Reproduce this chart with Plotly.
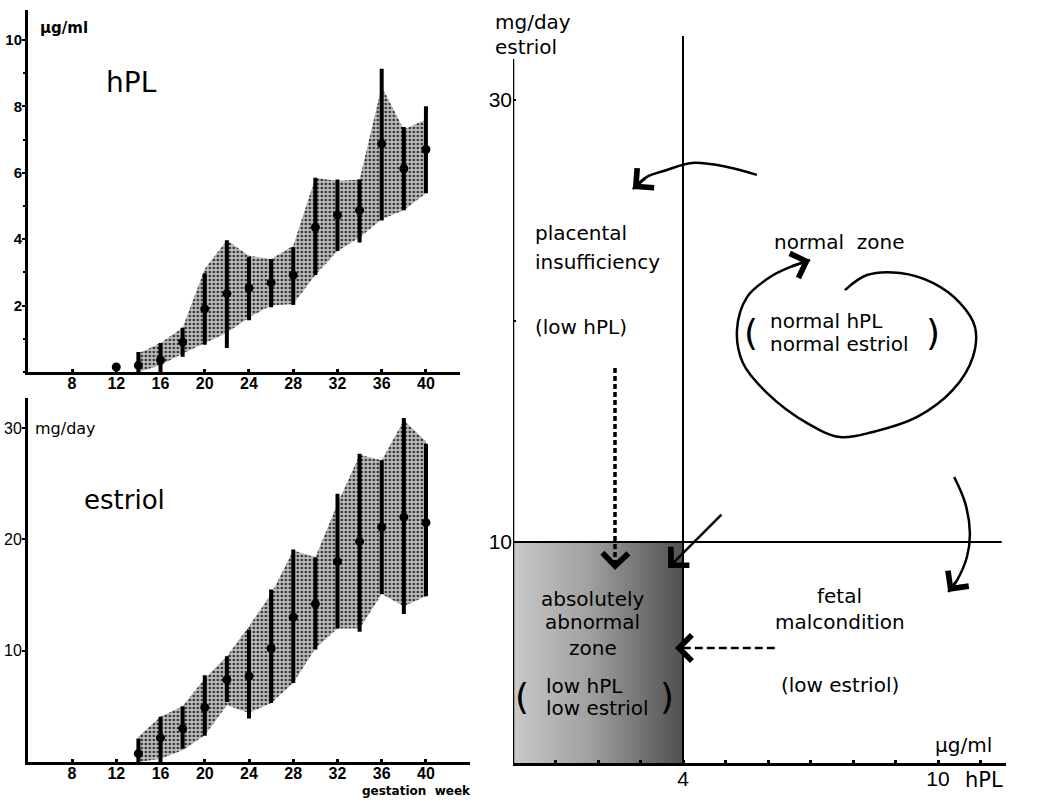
import plotly.graph_objects as go

FONT = "DejaVu Sans"
TFONT = "Liberation Sans"

# ---------------- data: hPL (µg/ml) ----------------
hpl_weeks = [12, 14, 16, 18, 20, 22, 24, 26, 28, 30, 32, 34, 36, 38, 40]
hpl_mean = [0.15, 0.2, 0.36, 0.9, 1.9, 2.36, 2.53, 2.69, 2.92, 4.36, 4.72, 4.87, 6.87, 6.12, 6.7]
hpl_high = [0.15, 0.6, 0.87, 1.33, 2.97, 3.97, 3.46, 3.4, 3.76, 5.85, 5.8, 5.8, 9.13, 7.38, 8.0]
hpl_low = [0.15, 0.0, 0.0, 0.46, 0.82, 0.72, 1.56, 1.95, 2.02, 2.92, 3.64, 3.9, 4.56, 4.87, 5.38]

band_weeks = [14, 16, 18, 20, 22, 24, 26, 28, 30, 32, 34, 36, 38, 40]
hpl_band_high = [0.56, 0.87, 1.33, 3.1, 3.97, 3.5, 3.4, 3.8, 5.85, 5.75, 5.8, 8.6, 7.3, 7.6]
hpl_band_low = [0.0, 0.2, 0.56, 0.87, 1.18, 1.64, 2.0, 2.05, 2.92, 3.64, 4.05, 4.6, 4.87, 5.38]

# ---------------- data: estriol (mg/day) ----------------
est_weeks = [14, 16, 18, 20, 22, 24, 26, 28, 30, 32, 34, 36, 38, 40]
est_mean = [0.75, 2.17, 3.0, 4.9, 7.4, 7.7, 10.2, 13.0, 14.2, 18.0, 19.8, 21.1, 22.0, 21.5]
est_high = [2.1, 4.07, 5.0, 7.8, 9.5, 11.9, 15.5, 19.1, 18.4, 24.1, 27.7, 27.1, 30.9, 28.6]
est_low = [0.0, 0.0, 1.2, 2.35, 5.4, 3.9, 5.3, 7.1, 10.1, 12.0, 11.7, 15.1, 13.3, 14.9]
est_band_high = [2.26, 4.07, 5.0, 7.5, 9.5, 12.2, 15.1, 19.0, 18.4, 23.2, 27.6, 27.1, 30.7, 28.8]
est_band_low = [0.0, 0.3, 1.05, 2.4, 5.1, 4.4, 5.3, 7.1, 10.2, 12.0, 12.0, 15.1, 14.0, 14.9]

week_ticks = [8, 12, 16, 20, 24, 28, 32, 36, 40]
hpl_ticks = [2, 4, 6, 8, 10]
est_ticks = [10, 20, 30]

# ---------------- data: diagnostic diagram ----------------
hpl_threshold = 4
estriol_threshold = 10
hpl_axis_max = 11.5
estriol_axis_max = 31.85
threshold_line_top = 32.9
diag_x_ticks = [1, 2, 3, 4, 5, 6, 7, 8, 9, 10, 11]
diag_x_labels = ["", "", "", "4", "", "", "", "", "", "10", ""]
diag_y_ticks = [10, 20, 30]
diag_y_labels = ["10", "", "30"]

arrow_top_x = [5.74, 5.04, 4.21, 3.62, 3.15, 2.82]
arrow_top_y = [26.61, 26.97, 27.15, 26.83, 26.52, 25.97]
loop_x = [7.81, 8.33, 9.11, 9.88, 10.52, 10.87, 10.82, 10.35, 9.51, 8.47, 7.69, 6.92, 5.98, 5.41, 5.27, 5.51, 6.05, 6.52, 6.99]
loop_y = [21.40, 22.08, 22.17, 21.72, 20.81, 19.73, 18.37, 16.88, 15.66, 14.98, 14.75, 15.38, 16.74, 18.10, 19.59, 21.09, 21.99, 22.44, 22.76]
arrow_right_x = [10.38, 10.64, 10.75, 10.68, 10.45, 10.24]
arrow_right_y = [12.94, 11.76, 10.41, 9.32, 8.28, 7.74]
arrow_diag_x = [4.94, 3.65]
arrow_diag_y = [11.31, 8.82]
dashed_v_x = [2.4, 2.4]
dashed_v_y = [17.87, 8.73]
dashed_h_x = [6.16, 3.81]
dashed_h_y = [5.2, 5.2]

diag_labels = [
    # text, x, y, size, xanchor
    ("placental", 0.47, 23.98, 20, "left"),
    ("insufficiency", 0.47, 22.67, 20, "left"),
    ("(low hPL)", 0.47, 19.73, 20, "left"),
    ("normal  zone", 7.68, 23.57, 20, "center"),
    ("normal hPL", 6.0, 19.98, 20, "left"),
    ("normal estriol", 6.0, 18.97, 20, "left"),
    ("(", 5.6, 19.5, 36, "center"),
    (")", 9.88, 19.5, 36, "center"),
    ("absolutely", 1.88, 7.42, 20, "center"),
    ("abnormal", 1.88, 6.36, 20, "center"),
    ("zone", 1.88, 5.22, 20, "center"),
    ("low hPL", 0.74, 3.5, 20, "left"),
    ("low estriol", 0.72, 2.47, 20, "left"),
    ("(", 0.2, 2.99, 36, "center"),
    (")", 3.62, 2.99, 36, "center"),
    ("fetal", 7.69, 7.55, 20, "center"),
    ("malcondition", 7.69, 6.36, 20, "center"),
    ("(low estriol)", 7.69, 3.53, 20, "center"),
    ("µg/ml", 10.59, 0.81, 20, "center"),
]

# labels placed outside the plotting ranges (paper fractions)
paper_labels = [
    ("mg/day", 0.474, 0.9727, 20, "normal"),
    ("estriol", 0.474, 0.9417, 20, "normal"),
    ("hPL", 0.926, 0.0323, 21, "normal"),
    ("gestation  week", 0.3462, 0.0186, 12, "bold"),
]

fig = go.Figure()

band_pattern = dict(shape=".", bgcolor="#bdbdbd", fgcolor="#333333", size=4, solidity=0.35, fillmode="replace")

# ---- hPL panel ----
fig.add_trace(go.Scatter(x=band_weeks, y=hpl_band_low, mode="lines", line=dict(width=0),
                         xaxis="x", yaxis="y", hoverinfo="skip", showlegend=False))
fig.add_trace(go.Scatter(x=band_weeks, y=hpl_band_high, mode="lines", line=dict(width=0),
                         fill="tonexty", fillpattern=band_pattern,
                         xaxis="x", yaxis="y", hoverinfo="skip", showlegend=False))
fig.add_trace(go.Scatter(
    x=hpl_weeks, y=hpl_mean, mode="markers",
    marker=dict(color="black", size=9),
    error_y=dict(type="data", symmetric=False,
                 array=[h - m for h, m in zip(hpl_high, hpl_mean)],
                 arrayminus=[m - l for m, l in zip(hpl_mean, hpl_low)],
                 color="black", thickness=4, width=0),
    xaxis="x", yaxis="y", showlegend=False))

# ---- estriol panel ----
fig.add_trace(go.Scatter(x=est_weeks, y=est_band_low, mode="lines", line=dict(width=0),
                         xaxis="x2", yaxis="y2", hoverinfo="skip", showlegend=False))
fig.add_trace(go.Scatter(x=est_weeks, y=est_band_high, mode="lines", line=dict(width=0),
                         fill="tonexty", fillpattern=band_pattern,
                         xaxis="x2", yaxis="y2", hoverinfo="skip", showlegend=False))
fig.add_trace(go.Scatter(
    x=est_weeks, y=est_mean, mode="markers",
    marker=dict(color="black", size=9),
    error_y=dict(type="data", symmetric=False,
                 array=[h - m for h, m in zip(est_high, est_mean)],
                 arrayminus=[m - l for m, l in zip(est_mean, est_low)],
                 color="black", thickness=4, width=0),
    xaxis="x2", yaxis="y2", showlegend=False))

# ---- diagnostic diagram ----
fig.add_trace(go.Scatter(
    x=[0, hpl_threshold, hpl_threshold, 0, 0],
    y=[0, 0, estriol_threshold, estriol_threshold, 0],
    mode="lines", line=dict(width=0), fill="toself",
    fillgradient=dict(type="horizontal",
                      colorscale=[[0, "#c9c9c9"], [0.45, "#a0a0a0"], [1, "#505050"]]),
    xaxis="x3", yaxis="y3", hoverinfo="skip", showlegend=False))

curve_line = dict(color="black", width=2.5, shape="spline", smoothing=1.0)
for cx, cy in [(arrow_top_x, arrow_top_y), (loop_x, loop_y), (arrow_right_x, arrow_right_y)]:
    fig.add_trace(go.Scatter(x=cx, y=cy, mode="lines", line=curve_line,
                             xaxis="x3", yaxis="y3", hoverinfo="skip", showlegend=False))
fig.add_trace(go.Scatter(x=dashed_v_x, y=[dashed_v_y[0], dashed_v_y[1] + 0.3], mode="lines",
                         line=dict(color="black", width=3.5, dash="5px,3px"),
                         xaxis="x3", yaxis="y3", hoverinfo="skip", showlegend=False))
fig.add_trace(go.Scatter(x=[dashed_h_x[0], dashed_h_x[1] + 0.15], y=dashed_h_y, mode="lines",
                         line=dict(color="black", width=2.5, dash="8px,4px"),
                         xaxis="x3", yaxis="y3", hoverinfo="skip", showlegend=False))

shapes = [
    dict(type="line", xref="x3", yref="y3", x0=0, x1=0, y0=0, y1=estriol_axis_max,
         line=dict(color="black", width=2.5)),
    dict(type="line", xref="x3", yref="y3", x0=hpl_threshold, x1=hpl_threshold, y0=0, y1=threshold_line_top,
         line=dict(color="black", width=2)),
    dict(type="line", xref="x3", yref="y3", x0=0, x1=hpl_axis_max, y0=estriol_threshold, y1=estriol_threshold,
         line=dict(color="black", width=2)),
]

annotations = []


def head(x, y, ax, ay, size=2.0, width=2.5):
    annotations.append(dict(x=x, y=y, ax=ax, ay=ay, xref="x3", yref="y3", axref="x3", ayref="y3",
                            text="", showarrow=True, arrowhead=4, arrowsize=size, arrowwidth=width,
                            arrowcolor="black", standoff=0))


head(arrow_top_x[-1], arrow_top_y[-1], arrow_top_x[-2], arrow_top_y[-2])
head(loop_x[-1], loop_y[-1], loop_x[-2], loop_y[-2])
head(arrow_right_x[-1], arrow_right_y[-1], arrow_right_x[-2], arrow_right_y[-2])
head(arrow_diag_x[1], arrow_diag_y[1], arrow_diag_x[0], arrow_diag_y[0])
head(dashed_v_x[1], dashed_v_y[1], dashed_v_x[1] + 0.005, dashed_v_y[1] + 0.45)
head(dashed_h_x[1], dashed_h_y[1], dashed_h_x[1] + 0.25, dashed_h_y[1] + 0.002)

for text, x, y, size, anchor in diag_labels:
    annotations.append(dict(x=x, y=y, xref="x3", yref="y3", text=text, showarrow=False,
                            xanchor=anchor, yanchor="middle",
                            font=dict(family=FONT, size=size, color="black")))

for text, x, y, size, weight in paper_labels:
    annotations.append(dict(x=x, y=y, xref="paper", yref="paper", text=text, showarrow=False,
                            xanchor="left", yanchor="middle",
                            font=dict(family=FONT, size=size, color="black", weight=weight)))

# left panel labels
annotations += [
    dict(x=4.92, y=10.36, xref="x", yref="y", text="µg/ml", showarrow=False, xanchor="left",
         font=dict(family=FONT, size=15, color="black", weight="bold")),
    dict(x=13.34, y=8.73, xref="x", yref="y", text="hPL", showarrow=False, xanchor="center",
         font=dict(family=FONT, size=28, color="black")),
    dict(x=4.45, y=30, xref="x2", yref="y2", text="mg/day", showarrow=False, xanchor="left",
         font=dict(family=FONT, size=16, color="black")),
    dict(x=12.7, y=23.5, xref="x2", yref="y2", text="estriol", showarrow=False, xanchor="center",
         font=dict(family=FONT, size=26, color="black")),
]

axis_common = dict(showgrid=False, zeroline=False, showline=True, linecolor="black", linewidth=2.5,
                   ticks="outside", ticklen=3, tickwidth=2, tickcolor="black", automargin=False,
                   ticklabelstandoff=-3)
xaxis_left = dict(showgrid=False, zeroline=False, showline=True, linecolor="black", linewidth=2.5,
                  ticks="inside", ticklen=3, tickwidth=3, tickcolor="black", automargin=False,
                  tickvals=week_ticks, ticklabelstandoff=-5,
                  tickfont=dict(family=TFONT, size=16, color="black", weight="bold"))

fig.update_layout(
    width=1040, height=806, margin=dict(l=0, r=0, t=0, b=0),
    template="none", paper_bgcolor="white", plot_bgcolor="rgba(0,0,0,0)",
    showlegend=False,
    xaxis=dict(domain=[0.02673, 0.44231], range=[4, 43.08], anchor="y", **xaxis_left),
    yaxis=dict(domain=[0.53846, 0.98759], range=[0, 10.9], anchor="x", tickvals=hpl_ticks,
               minor=dict(dtick=1, ticks="outside", ticklen=2, tickcolor="black"),
               tickfont=dict(family=TFONT, size=15, color="black", weight="bold"), **axis_common),
    xaxis2=dict(domain=[0.02673, 0.45192], range=[4, 43.98], anchor="y2", **xaxis_left),
    yaxis2=dict(domain=[0.05459, 0.50620], range=[0, 32.7], anchor="x2", tickvals=est_ticks,
                tickfont=dict(family=TFONT, size=16, color="black"), **axis_common),
    xaxis3=dict(domain=[0.49327, 0.96731], range=[0, 11.6], anchor="y3", tickvals=diag_x_ticks,
                ticktext=diag_x_labels, showgrid=False, zeroline=False, showline=True,
                linecolor="black", linewidth=2.5, ticks="inside", ticklen=3, tickwidth=3,
                tickcolor="black", automargin=False, ticklabelstandoff=-5,
                tickfont=dict(family=TFONT, size=21, color="black")),
    yaxis3=dict(domain=[0.05335, 0.95819], range=[0, 33], anchor="x3", tickvals=diag_y_ticks,
                ticktext=diag_y_labels, showgrid=False, zeroline=False, showline=False,
                ticks="inside", ticklen=3, tickwidth=2, tickcolor="black", automargin=False,
                tickfont=dict(family=TFONT, size=21, color="black")),
    shapes=shapes,
    annotations=annotations,
)

fig.write_html("out.html")
